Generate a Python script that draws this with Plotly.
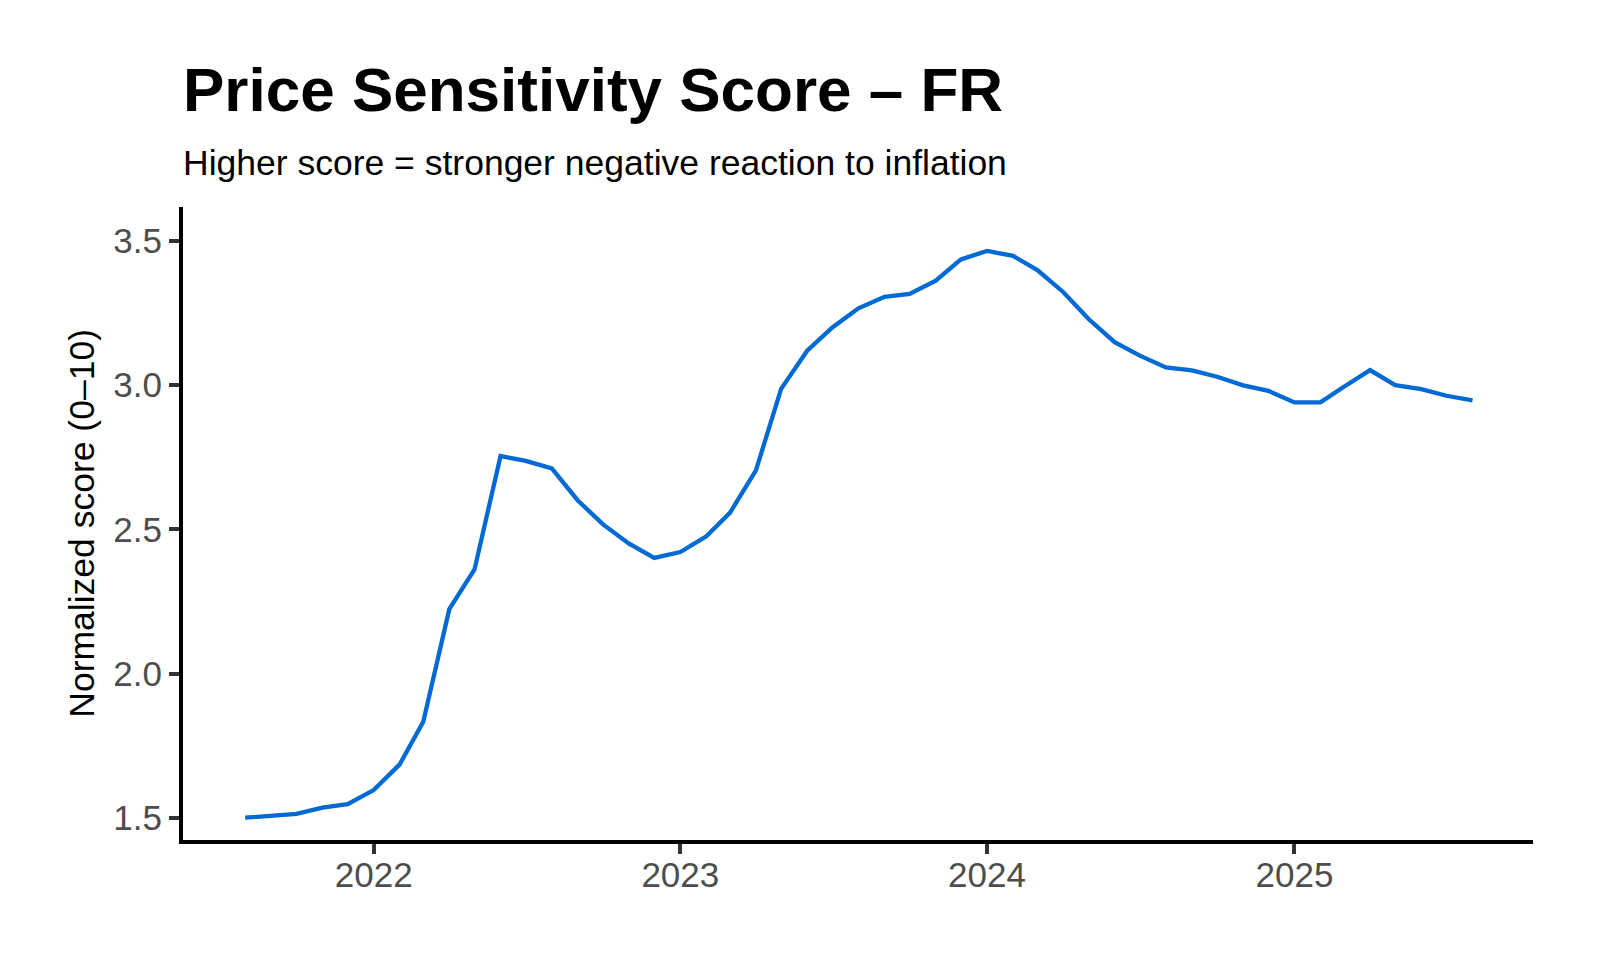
import plotly.graph_objects as go
import pandas as pd

# Monthly observations, Aug 2021 - Aug 2025
months = pd.date_range("2021-08-01", "2025-08-01", freq="MS").strftime("%Y-%m-%d").tolist()
scores = [
    1.500, 1.506, 1.513, 1.535, 1.547,            # 2021 Aug-Dec
    1.596, 1.685, 1.833, 2.223, 2.361, 2.754,     # 2022 Jan-Jun
    2.737, 2.711, 2.600, 2.517, 2.450, 2.401,     # 2022 Jul-Dec
    2.421, 2.476, 2.557, 2.704, 2.987, 3.119,     # 2023 Jan-Jun
    3.200, 3.266, 3.306, 3.316, 3.362, 3.436,     # 2023 Jul-Dec
    3.465, 3.448, 3.399, 3.322, 3.229, 3.149,     # 2024 Jan-Jun
    3.102, 3.061, 3.051, 3.029, 2.999, 2.980,     # 2024 Jul-Dec
    2.940, 2.940, 2.994, 3.052, 3.000, 2.986,     # 2025 Jan-Jun
    2.963, 2.947,                                 # 2025 Jul-Aug
]

x_tick_vals = ["2022-01-01", "2023-01-01", "2024-01-01", "2025-01-01"]
x_tick_text = ["2022", "2023", "2024", "2025"]
y_tick_vals = [1.5, 2.0, 2.5, 3.0, 3.5]
y_tick_text = ["1.5", "2.0", "2.5", "3.0", "3.5"]

title_text = "<b>Price Sensitivity Score \u2013 FR</b>"
subtitle_text = "Higher score = stronger negative reaction to inflation"
y_title_text = "Normalized score (0\u201310)"

FONT = "Liberation Sans, Arial, Helvetica, sans-serif"

fig = go.Figure()
fig.add_trace(go.Scatter(
    x=months, y=scores, mode="lines",
    line=dict(color="#006AD4", width=4.3),
    hoverinfo="x+y", showlegend=False,
))

# the page body adds an 8px margin, so the figure is laid out 8px up/left
fig.update_layout(
    width=1592, height=952,
    margin=dict(l=175, r=67, t=199, b=120),
    paper_bgcolor="white", plot_bgcolor="white",
    font=dict(family=FONT, color="black"),
    showlegend=False,
)

fig.update_xaxes(
    type="date",
    range=["2021-05-19", "2025-10-12"],
    tickmode="array", tickvals=x_tick_vals, ticktext=x_tick_text,
    ticks="outside", ticklen=10, tickwidth=4, tickcolor="#333333",
    ticklabelstandoff=-9,
    tickfont=dict(family=FONT, size=35, color="#4D4D4D"),
    showline=True, linecolor="black", linewidth=4,
    showgrid=False, zeroline=False,
)
fig.update_yaxes(
    range=[1.4227, 3.6175],
    tickmode="array", tickvals=y_tick_vals, ticktext=y_tick_text,
    ticks="outside", ticklen=10, tickwidth=4, tickcolor="#333333",
    tickfont=dict(family=FONT, size=35, color="#4D4D4D"),
    showline=True, linecolor="black", linewidth=4,
    showgrid=False, zeroline=False,
)

fig.add_annotation(
    text=title_text, xref="paper", yref="paper", x=-0.0015, y=1.1853,
    xanchor="left", yanchor="middle", showarrow=False,
    font=dict(family=FONT, size=62, color="black"),
)
fig.add_annotation(
    text=subtitle_text, xref="paper", yref="paper", x=-0.0015, y=1.0703,
    xanchor="left", yanchor="middle", showarrow=False,
    font=dict(family=FONT, size=35.5, color="black"),
)
fig.add_annotation(
    text=y_title_text, xref="paper", yref="paper", x=-0.0754, y=0.5,
    xanchor="center", yanchor="middle", showarrow=False, textangle=-90,
    font=dict(family=FONT, size=35.5, color="black"),
)

fig.write_html("out.html")
